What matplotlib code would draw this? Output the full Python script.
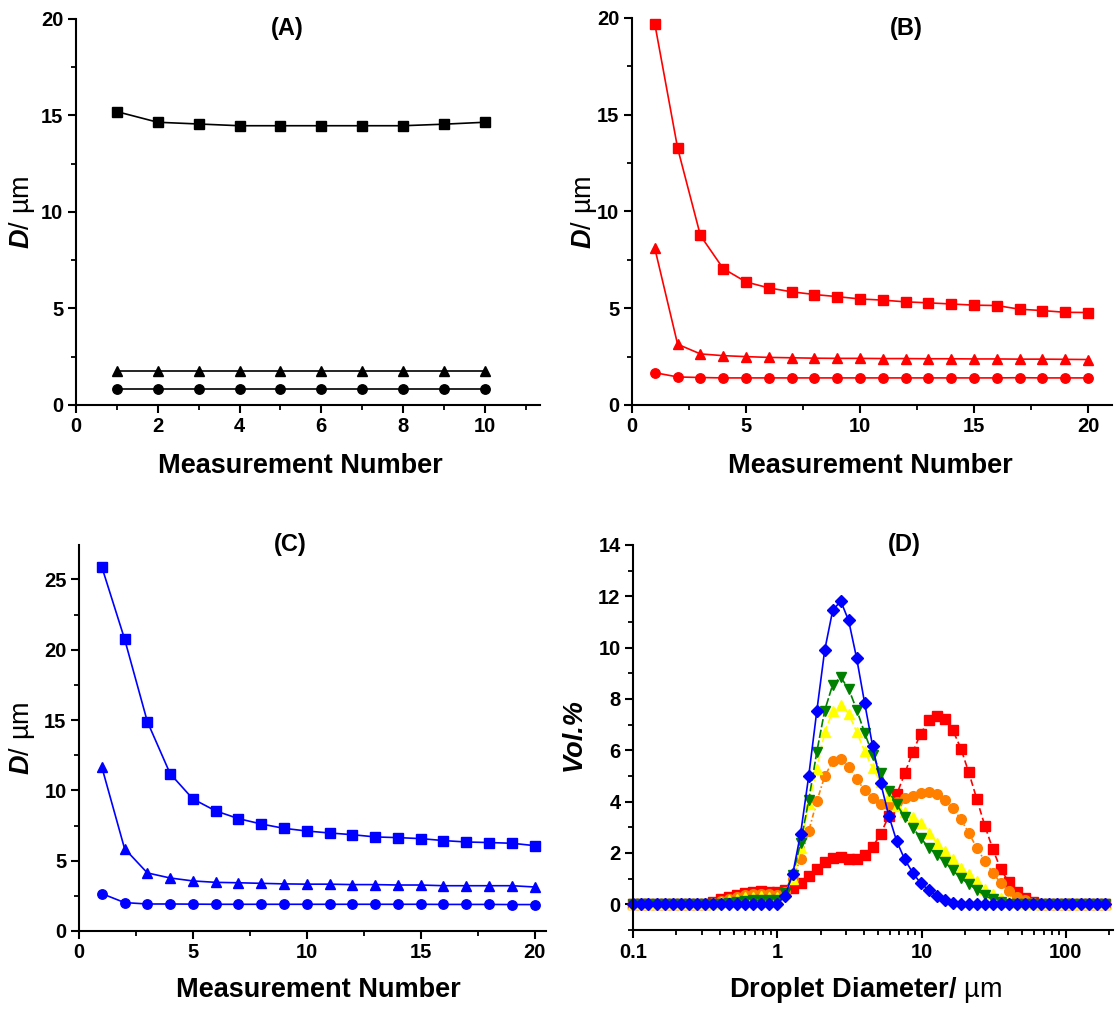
import matplotlib
matplotlib.use("Agg")
import matplotlib.pyplot as plt
from matplotlib.ticker import MultipleLocator, LogLocator, FixedLocator, FixedFormatter, NullFormatter

plt.rcParams['font.family'] = ['Liberation Sans', 'DejaVu Sans']
plt.rcParams['mathtext.fontset'] = 'custom'
plt.rcParams['mathtext.it'] = 'Liberation Sans:italic:bold'
plt.rcParams['mathtext.bf'] = 'Liberation Sans:bold'
plt.rcParams['mathtext.rm'] = 'Liberation Sans'

# ---------------- data ----------------
# (A) repeat measurements
meas_a = [1, 2, 3, 4, 5, 6, 7, 8, 9, 10]
a_d43 = [15.2, 14.65, 14.56, 14.47, 14.47, 14.47, 14.47, 14.47, 14.55, 14.65]
a_d50 = [1.76] * 10
a_d10 = [0.81] * 10

# (B) repeat measurements
meas_bc = list(range(1, 21))
b_d43 = [19.7, 13.28, 8.76, 7.05, 6.36, 6.05, 5.85, 5.71, 5.6, 5.48,
         5.42, 5.33, 5.28, 5.22, 5.16, 5.14, 4.95, 4.88, 4.79, 4.78]
b_d50 = [8.1, 3.14, 2.64, 2.55, 2.5, 2.46, 2.44, 2.42, 2.41, 2.41,
         2.4, 2.4, 2.39, 2.39, 2.38, 2.38, 2.37, 2.37, 2.36, 2.35]
b_d10 = [1.67, 1.45, 1.42, 1.4, 1.4, 1.4, 1.4, 1.4, 1.4, 1.4,
         1.4, 1.4, 1.4, 1.4, 1.4, 1.4, 1.41, 1.4, 1.4, 1.4]

# (C) repeat measurements
c_d43 = [25.9, 20.77, 14.89, 11.19, 9.39, 8.54, 7.99, 7.61, 7.3, 7.11,
         6.97, 6.85, 6.69, 6.64, 6.57, 6.43, 6.33, 6.29, 6.24, 6.07]
c_d50 = [11.67, 5.86, 4.13, 3.77, 3.56, 3.46, 3.43, 3.39, 3.35, 3.33,
         3.33, 3.3, 3.3, 3.27, 3.27, 3.22, 3.22, 3.22, 3.22, 3.13]
c_d10 = [2.66, 2.02, 1.92, 1.92, 1.91, 1.9, 1.9, 1.9, 1.9, 1.9,
         1.9, 1.9, 1.9, 1.9, 1.9, 1.89, 1.89, 1.89, 1.88, 1.88]

# (D) size distributions
sizes = [0.0995, 0.113, 0.128, 0.146, 0.166, 0.188, 0.214, 0.243, 0.276, 0.314,
         0.357, 0.405, 0.460, 0.523, 0.594, 0.675, 0.767, 0.872, 0.991, 1.13,
         1.28, 1.45, 1.65, 1.88, 2.13, 2.42, 2.75, 3.12, 3.55, 4.03,
         4.58, 5.21, 5.92, 6.72, 7.64, 8.68, 9.86, 11.2, 12.7, 14.5,
         16.4, 18.7, 21.2, 24.1, 27.4, 31.1, 35.3, 40.1, 45.6, 51.8,
         58.9, 66.9, 76.0, 86.4, 98.1, 111, 127, 144, 163, 186]
vol_red = [0, 0, 0, 0, 0, 0, 0, 0, 0, 0.03,
           0.1, 0.2, 0.3, 0.38, 0.45, 0.5, 0.52, 0.5, 0.47, 0.55,
           0.65, 0.84, 1.1, 1.38, 1.65, 1.81, 1.86, 1.78, 1.75, 1.91,
           2.24, 2.75, 3.44, 4.28, 5.1, 5.93, 6.65, 7.17, 7.32, 7.22,
           6.81, 6.07, 5.15, 4.11, 3.07, 2.16, 1.38, 0.87, 0.48, 0.25,
           0.1, 0.03, 0, 0, 0, 0, 0, 0, 0, 0]
vol_orange = [0, 0, 0, 0, 0, 0, 0, 0, 0, 0.02,
              0.05, 0.12, 0.22, 0.3, 0.36, 0.4, 0.42, 0.4, 0.38, 0.5,
              1.0, 1.78, 2.85, 4.02, 4.99, 5.57, 5.67, 5.37, 4.88, 4.44,
              4.13, 3.91, 3.88, 4.0, 4.15, 4.24, 4.33, 4.38, 4.31, 4.08,
              3.76, 3.31, 2.79, 2.2, 1.69, 1.23, 0.84, 0.52, 0.3, 0.15,
              0.06, 0.02, 0, 0, 0, 0, 0, 0, 0, 0]
vol_yellow = [0, 0, 0, 0, 0, 0, 0, 0, 0, 0,
              0.03, 0.08, 0.15, 0.22, 0.28, 0.3, 0.32, 0.3, 0.28, 0.45,
              1.0, 2.2, 3.9, 5.28, 6.7, 7.52, 7.78, 7.43, 6.72, 5.96,
              5.31, 4.76, 4.21, 3.85, 3.58, 3.4, 3.18, 2.79, 2.4, 2.07,
              1.75, 1.42, 1.17, 0.91, 0.6, 0.39, 0.24, 0.12, 0.05, 0.02,
              0, 0, 0, 0, 0, 0, 0, 0, 0, 0]
vol_green = [0, 0, 0, 0, 0, 0, 0, 0, 0, 0,
             0, 0, 0.04, 0.08, 0.12, 0.15, 0.17, 0.17, 0.18, 0.45,
             1.15, 2.4, 4.05, 5.95, 7.55, 8.56, 8.84, 8.4, 7.58, 6.68,
             5.83, 5.12, 4.41, 3.89, 3.4, 2.98, 2.59, 2.2, 1.94, 1.65,
             1.33, 1.02, 0.8, 0.56, 0.35, 0.19, 0.08, 0.02, 0, 0,
             0, 0, 0, 0, 0, 0, 0, 0, 0, 0]
vol_blue = [0, 0, 0, 0, 0, 0, 0, 0, 0, 0,
            0, 0, 0, 0, 0, 0, 0, 0, 0, 0.32,
            1.19, 2.75, 4.99, 7.55, 9.9, 11.45, 11.82, 11.06, 9.58, 7.84,
            6.16, 4.71, 3.46, 2.46, 1.75, 1.23, 0.82, 0.56, 0.32, 0.15,
            0.05, 0, 0, 0, 0, 0, 0, 0, 0, 0,
            0, 0, 0, 0, 0, 0, 0, 0, 0, 0]

# ---------------- figure ----------------
W, H = 1117, 1014
fig = plt.figure(figsize=(W / 100, H / 100), dpi=100)


def px_axes(left, top, right, bottom):
    return fig.add_axes([left / W, 1 - bottom / H, (right - left) / W, (bottom - top) / H])


def style(ax):
    for s in ('top', 'right'):
        ax.spines[s].set_visible(False)
    for s in ('left', 'bottom'):
        ax.spines[s].set_linewidth(1.5)
    ax.tick_params(which='major', direction='out', length=6, width=1.5, labelsize=14.5, pad=3)
    ax.tick_params(which='minor', direction='out', length=3.5, width=1.3)
    for lab in ax.get_xticklabels() + ax.get_yticklabels():
        lab.set_fontweight('bold')


label_kw = dict(fontsize=19.5, fontweight='bold')
dlabel = r'$\mathit{D/}\ \mathrm{µm}$'

ax_a = px_axes(76, 19, 540, 405)
ax_b = px_axes(632, 18, 1112, 405)
ax_c = px_axes(79, 545, 546, 931)
ax_d = px_axes(633, 545, 1113, 930)

line_kw = dict(lw=1.2, ms=6.8, clip_on=False)

# (A)
ax_a.plot(meas_a, a_d43, color='black', marker='s', **line_kw)
ax_a.plot(meas_a, a_d50, color='black', marker='^', **line_kw)
ax_a.plot(meas_a, a_d10, color='black', marker='o', **line_kw)
ax_a.set_xlim(0, 11.35)
ax_a.set_ylim(0, 20)
ax_a.xaxis.set_major_locator(MultipleLocator(2))
ax_a.xaxis.set_minor_locator(MultipleLocator(1))
ax_a.yaxis.set_major_locator(MultipleLocator(5))
ax_a.yaxis.set_minor_locator(MultipleLocator(2.5))

# (B)
ax_b.plot(meas_bc, b_d43, color='red', marker='s', **line_kw)
ax_b.plot(meas_bc, b_d50, color='red', marker='^', **line_kw)
ax_b.plot(meas_bc, b_d10, color='red', marker='o', **line_kw)
ax_b.set_xlim(0, 21.05)
ax_b.set_ylim(0, 20)
ax_b.xaxis.set_major_locator(MultipleLocator(5))
ax_b.xaxis.set_minor_locator(MultipleLocator(2.5))
ax_b.yaxis.set_major_locator(MultipleLocator(5))
ax_b.yaxis.set_minor_locator(MultipleLocator(2.5))

# (C)
ax_c.plot(meas_bc, c_d43, color='blue', marker='s', **line_kw)
ax_c.plot(meas_bc, c_d50, color='blue', marker='^', **line_kw)
ax_c.plot(meas_bc, c_d10, color='blue', marker='o', **line_kw)
ax_c.set_xlim(0, 20.5)
ax_c.set_ylim(0, 27.45)
ax_c.xaxis.set_major_locator(MultipleLocator(5))
ax_c.xaxis.set_minor_locator(MultipleLocator(2.5))
ax_c.yaxis.set_major_locator(MultipleLocator(5))
ax_c.yaxis.set_minor_locator(MultipleLocator(2.5))

# (D)
dist_kw = dict(lw=1.2, clip_on=False)
ax_d.plot(sizes, vol_red, color='#ff0000', marker='s', ms=6.5, ls=(0, (4, 2)), **dist_kw)
ax_d.plot(sizes, vol_orange, color='#ff8000', marker='o', ms=7.0, ls=(0, (3, 1.5, 1, 1.5)), **dist_kw)
ax_d.plot(sizes, vol_yellow, color='#ffff00', marker='^', ms=7.6, ls=(0, (4, 2)), **dist_kw)
ax_d.plot(sizes, vol_green, color='#008000', marker='v', ms=7.6, ls=(0, (5, 1.5)), **dist_kw)
ax_d.plot(sizes, vol_blue, color='#0000ff', marker='D', ms=6.4, ls='-', **dist_kw)
ax_d.set_xscale('log')
ax_d.set_xlim(0.1, 212)
ax_d.set_ylim(-1, 14)
ax_d.xaxis.set_major_locator(FixedLocator([0.1, 1, 10, 100]))
ax_d.xaxis.set_major_formatter(FixedFormatter(['0.1', '1', '10', '100']))
ax_d.xaxis.set_minor_locator(LogLocator(base=10, subs=range(2, 10)))
ax_d.xaxis.set_minor_formatter(NullFormatter())
ax_d.yaxis.set_major_locator(MultipleLocator(2))
ax_d.yaxis.set_minor_locator(MultipleLocator(1))

for ax in (ax_a, ax_b, ax_c, ax_d):
    style(ax)


def place_labels(ax, box, xl, yl, xlab_px, ylab_px):
    left, top, right, bottom = box
    ax.set_xlabel(xl, va='center', ha='center', **label_kw)
    ax.set_ylabel(yl, va='center', ha='center', **label_kw)
    ax.xaxis.set_label_coords((xlab_px[0] - left) / (right - left),
                              (bottom - xlab_px[1]) / (bottom - top))
    ax.yaxis.set_label_coords((ylab_px[0] - left) / (right - left),
                              (bottom - ylab_px[1]) / (bottom - top))


place_labels(ax_a, (76, 19, 540, 405), 'Measurement Number', dlabel, (300, 466), (22, 212))
place_labels(ax_b, (632, 18, 1112, 405), 'Measurement Number', dlabel, (870, 466), (584, 212))
place_labels(ax_c, (79, 545, 546, 931), 'Measurement Number', dlabel, (318, 990), (22, 738))
place_labels(ax_d, (633, 545, 1113, 930), r'$\mathbf{Droplet\ Diameter/}\ \mathrm{µm}$',
             'Vol.%', (866, 990), (574, 735))
ax_d.yaxis.label.set_fontstyle('italic')

# panel letters
for txt, (px, py) in [('(A)', (287, 29)), ('(B)', (906, 28)),
                      ('(C)', (290, 545)), ('(D)', (904, 544))]:
    fig.text(px / W, 1 - py / H, txt, ha='center', va='center',
             fontsize=17, fontweight='bold')

fig.savefig('out.png', dpi=100)
